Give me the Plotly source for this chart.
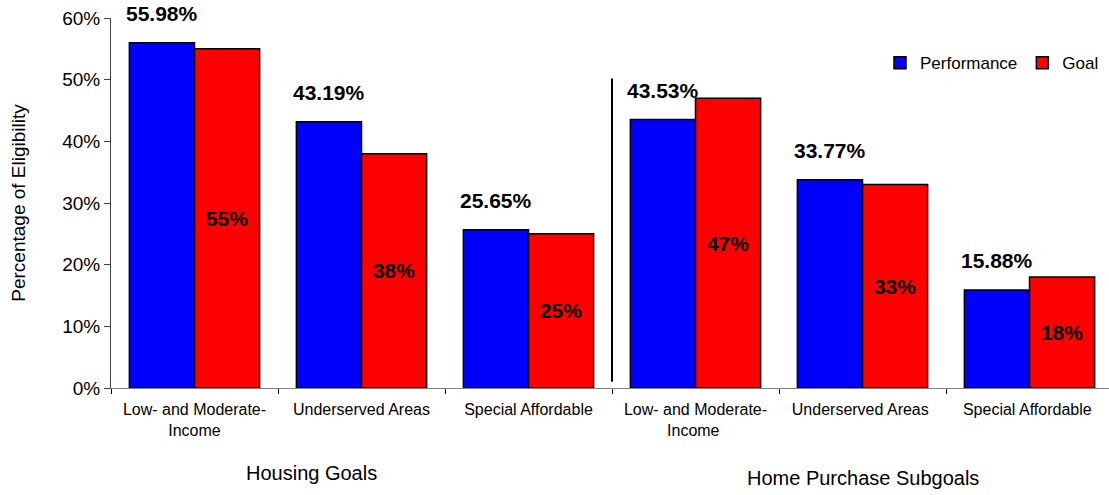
import plotly.graph_objects as go

categories = ["Low- and Moderate-<br>Income", "Underserved Areas", "Special Affordable",
              "Low- and Moderate-<br>Income ", "Underserved Areas ", "Special Affordable "]
performance = [55.98, 43.19, 25.65, 43.53, 33.77, 15.88]
goal = [55, 38, 25, 47, 33, 18]
group_labels = ["Housing Goals", "Home Purchase Subgoals"]
y_ticks = [0, 10, 20, 30, 40, 50, 60]

FONT = "Liberation Sans, Arial, sans-serif"
BARGAP = 0.22
half = (1 - BARGAP) / 4  # offset of each bar centre from category centre

fig = go.Figure()
fig.add_trace(go.Bar(
    x=categories, y=performance, name="Performance",
    marker=dict(color="#0000FF", line=dict(color="black", width=1.5)),
))
fig.add_trace(go.Bar(
    x=categories, y=goal, name="Goal",
    marker=dict(color="#FF0000", line=dict(color="black", width=1.5)),
    text=[f"<b>{g}%</b>" for g in goal], textposition="inside",
    insidetextanchor="middle", textangle=0,
    textfont=dict(family=FONT, size=21, color="black"),
))

# performance value labels above blue bars
for i, p in enumerate(performance):
    fig.add_annotation(x=i - half, y=p, xref="x", yref="y",
                       text=f"<b>{p:.2f}%</b>", showarrow=False,
                       yanchor="bottom", yshift=16,
                       font=dict(family=FONT, size=21, color="black"))

# group labels
fig.add_annotation(x=0.70, y=-0.23, xref="x", yref="paper", text=group_labels[0],
                   showarrow=False, yanchor="middle",
                   font=dict(family=FONT, size=20, color="black"))
fig.add_annotation(x=4.0, y=-0.243, xref="x", yref="paper", text=group_labels[1],
                   showarrow=False, yanchor="middle",
                   font=dict(family=FONT, size=20, color="black"))

# separator line between groups
fig.add_shape(type="line", xref="x", yref="y", x0=2.5, x1=2.5, y0=1, y1=50.2,
              line=dict(color="black", width=2))

fig.update_layout(
    width=1109, height=495,
    margin=dict(l=111, r=0, t=18, b=107),
    plot_bgcolor="white", paper_bgcolor="white",
    barmode="group", bargap=BARGAP, bargroupgap=0,
    font=dict(family=FONT, color="black"),
    showlegend=True,
    legend=dict(orientation="h", x=0.995, xanchor="right", y=0.878, yanchor="middle",
                font=dict(family=FONT, size=17), itemwidth=30,
                bgcolor="rgba(0,0,0,0)", traceorder="normal"),
    xaxis=dict(type="category", range=[-0.5, 5.476], tickson="boundaries",
               ticks="outside", ticklen=5, tickcolor="black",
               showline=True, linecolor="#808080", linewidth=1,
               showgrid=False, tickfont=dict(family=FONT, size=16),
               ticklabelstandoff=7),
    yaxis=dict(range=[0, 60], tickvals=y_ticks, ticktext=[f"{v}%" for v in y_ticks],
               ticks="outside", ticklen=6, tickcolor="#404040",
               showline=True, linecolor="#404040", linewidth=1,
               showgrid=False, zeroline=False,
               tickfont=dict(family=FONT, size=19),
               title=dict(text="Percentage of Eligibility", standoff=31,
                          font=dict(family=FONT, size=19)),
               automargin=False),
)

fig.write_html("out.html", config={"displayModeBar": False},
               post_script="document.body.style.margin='0';")
